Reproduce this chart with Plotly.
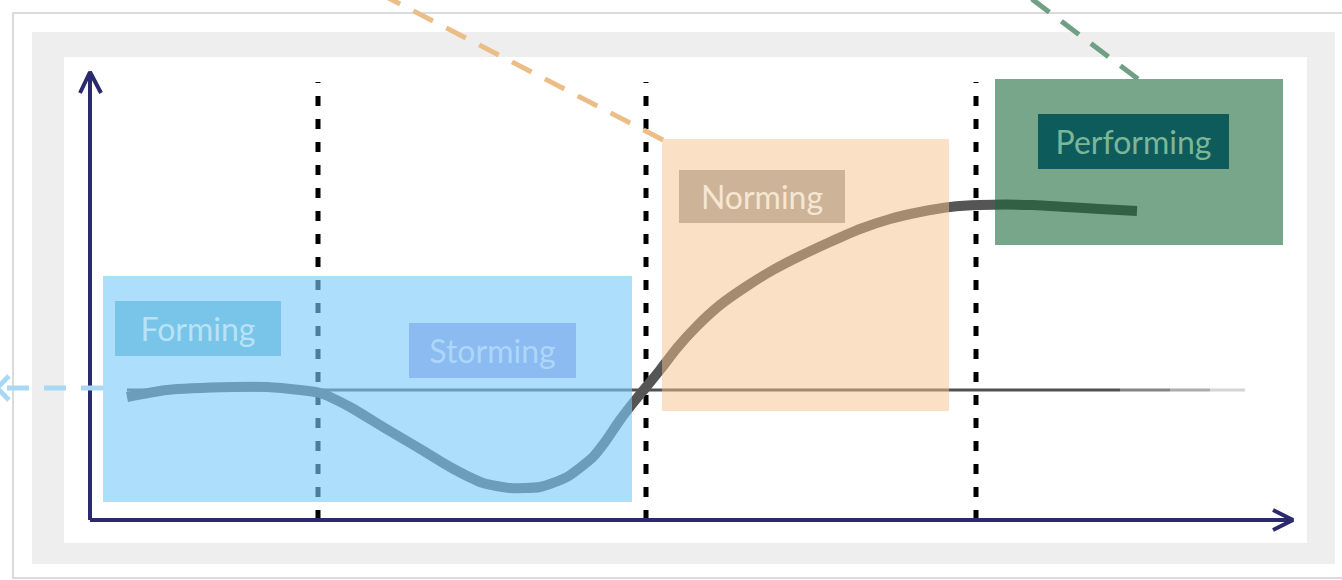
import plotly.graph_objects as go

# ---- data -------------------------------------------------------------
stages = ["Forming", "Storming", "Norming", "Performing"]
stage_breaks = [2.28, 5.56, 8.86]          # time points between stages

time = [0.37, 0.77, 1.43, 1.77, 2.10, 2.30, 2.60, 2.93, 3.27, 3.60, 3.93,
        4.20, 4.50, 4.77, 5.03, 5.15, 5.30, 5.43, 5.57, 5.70, 5.87, 6.07,
        6.30, 6.57, 6.83, 7.10, 7.40, 7.70, 8.00, 8.30, 8.60, 8.90, 9.43,
        9.77, 10.10, 10.47]
performance = [1.23, 1.30, 1.33, 1.33, 1.30, 1.27, 1.13, 0.93, 0.73, 0.53,
               0.37, 0.32, 0.33, 0.43, 0.63, 0.78, 1.00, 1.17, 1.34, 1.50,
               1.72, 1.94, 2.15, 2.34, 2.50, 2.64, 2.78, 2.91, 3.01, 3.08,
               3.13, 3.15, 3.15, 3.13, 3.11, 3.09]

baseline_level = 1.30
baseline_end = 11.55

# ---- canvas / scales ---------------------------------------------------
W, H = 1342, 580
X_RANGE = [-0.9, 12.52]
Y_RANGE = [-0.6, 5.2]
AXIS_TOP = 4.48
AXIS_RIGHT = 12.03
NAVY = "#2c2a6e"

# stage panels: (t0, t1, v0, v1, rgb, opacity)
panels = {
    "Forming":    (0.13, 5.42, 0.18, 2.44, "rgb(123,203,250)", 0.62),
    "Norming":    (5.72, 8.59, 1.09, 3.81, "rgb(245,195,141)", 0.50),
    "Performing": (9.05, 11.93, 2.75, 4.41, "rgb(26,104,57)", 0.59),
}

# label tags: centre (t, v), box size, fill, text colour
tags = {
    "Forming":    (1.08, 1.915, 166, 55, "#79c5e9", "#b8e2f6"),
    "Storming":   (4.025, 1.695, 167, 55, "#8bbbf0", "#acd6fa"),
    "Norming":    (6.72, 3.235, 166, 53, "#cdb499", "#f6e6d2"),
    "Performing": (10.435, 3.785, 191, 55, "#0e5b5b", "#7db696"),
}


def paper(xp, yp):
    return xp / W, 1 - yp / H


fig = go.Figure()
shapes = []

# card outline and framed panel
x0, y0 = paper(13, 13)
x1, y1 = paper(1360, 578)
shapes.append(dict(type="rect", xref="paper", yref="paper", x0=x0, y0=y1, x1=x1, y1=y0,
                   line=dict(color="#cfcfcf", width=1.5), fillcolor="white", layer="below"))
x0, y0 = paper(32, 32)
x1, y1 = paper(1335, 564)
shapes.append(dict(type="rect", xref="paper", yref="paper", x0=x0, y0=y1, x1=x1, y1=y0,
                   line=dict(width=0), fillcolor="#eeeeee", layer="below"))
x0, y0 = paper(64, 57)
x1, y1 = paper(1307, 543)
shapes.append(dict(type="rect", xref="paper", yref="paper", x0=x0, y0=y1, x1=x1, y1=y0,
                   line=dict(width=0), fillcolor="white", layer="below"))

# dotted stage separators
for b in stage_breaks:
    shapes.append(dict(type="line", xref="x", yref="y", x0=b, x1=b, y0=0, y1=4.38,
                       line=dict(color="black", width=5, dash="10px,13px"), layer="below"))

# semi-transparent stage panels laid over the curve
for name, (t0, t1, v0, v1, col, op) in panels.items():
    shapes.append(dict(type="rect", xref="x", yref="y", x0=t0, x1=t1, y0=v0, y1=v1,
                       fillcolor=col, opacity=op, line=dict(width=0), layer="above"))

# dashed leaders running off the panels
leaders = [
    (0.13, 1.32, -0.95, 1.32, "#a9d8f5"),
    (5.73, 3.80, 2.83, 5.30, "#ebbd87"),
    (10.48, 4.41, 9.30, 5.30, "#6f9f84"),
]
for lx0, ly0, lx1, ly1, col in leaders:
    shapes.append(dict(type="line", xref="x", yref="y", x0=lx0, y0=ly0, x1=lx1, y1=ly1,
                       line=dict(color=col, width=5, dash="22px,15px"), layer="above"))

fig.update_layout(shapes=shapes)

# axes with open arrow heads
fig.add_trace(go.Scatter(x=[0, 0], y=[0, AXIS_TOP], mode="lines",
                         line=dict(color=NAVY, width=4), hoverinfo="skip"))
fig.add_trace(go.Scatter(x=[-0.10, 0, 0.11], y=[AXIS_TOP - 0.21, AXIS_TOP, AXIS_TOP - 0.21],
                         mode="lines", line=dict(color=NAVY, width=4), hoverinfo="skip"))
fig.add_trace(go.Scatter(x=[0, AXIS_RIGHT], y=[0, 0], mode="lines",
                         line=dict(color=NAVY, width=4), hoverinfo="skip"))
fig.add_trace(go.Scatter(x=[AXIS_RIGHT - 0.20, AXIS_RIGHT, AXIS_RIGHT - 0.20], y=[0.10, 0, -0.10],
                         mode="lines", line=dict(color=NAVY, width=4), hoverinfo="skip"))

# left leader arrow head
fig.add_trace(go.Scatter(x=[-0.81, -0.93, -0.81], y=[1.44, 1.32, 1.20], mode="lines",
                         line=dict(color="#a9d8f5", width=5), hoverinfo="skip"))

# sketched baseline, fading at its end
fade = [(time[0], 10.3, 0.85), (10.3, 10.8, 0.6), (10.8, 11.2, 0.4), (11.2, baseline_end, 0.2)]
for a, b, op in fade:
    fig.add_trace(go.Scatter(x=[a, b], y=[baseline_level, baseline_level], mode="lines",
                             line=dict(color="#333333", width=3), opacity=op, hoverinfo="skip"))

# performance curve
fig.add_trace(go.Scatter(x=time, y=performance, mode="lines",
                         line=dict(color="#555555", width=10, shape="spline", smoothing=0.6),
                         hoverinfo="skip"))

# stage tags
for name in stages:
    cx, cy, w, h, bg, fg = tags[name]
    fig.add_annotation(x=cx, y=cy, xref="x", yref="y", text=name, showarrow=False,
                       width=w, height=h, bgcolor=bg, borderpad=0, borderwidth=0,
                       font=dict(family="Lato", size=32, color=fg),
                       xanchor="center", yanchor="middle", align="center", valign="middle")

fig.update_layout(
    width=W, height=H, autosize=False,
    margin=dict(l=0, r=0, t=0, b=0, pad=0),
    paper_bgcolor="white", plot_bgcolor="white",
    showlegend=False,
    xaxis=dict(range=X_RANGE, visible=False, fixedrange=True),
    yaxis=dict(range=Y_RANGE, visible=False, fixedrange=True),
)

fig.write_html("out.html", config={"displayModeBar": False})
